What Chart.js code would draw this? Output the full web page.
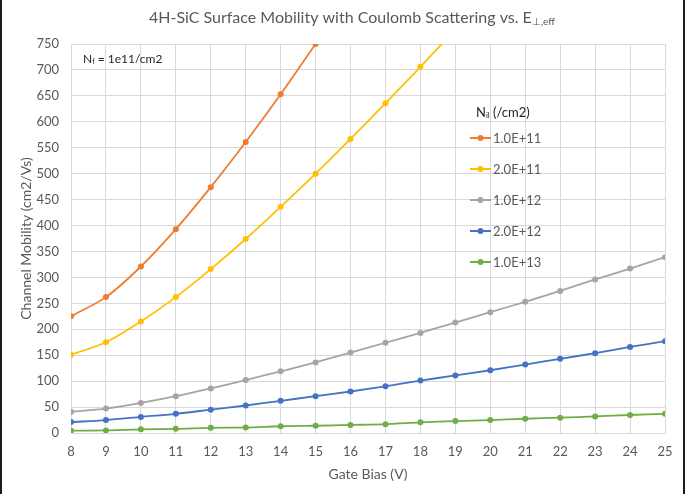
<!DOCTYPE html>
<html>
<head>
<meta charset="utf-8">
<script src="https://cdn.jsdelivr.net/npm/chart.js@4"></script>
<style>
  html, body { margin: 0; padding: 0; background: #fff; }
  #wrap { position: relative; width: 690px; height: 494px; }
</style>
</head>
<body>
<div id="wrap"><canvas id="lineChart" width="690" height="494"></canvas></div>
<script>
// gate bias (V)
const gateBias = [8, 9, 10, 11, 12, 13, 14, 15, 16, 17, 18, 19, 20, 21, 22, 23, 24, 25];
const seriesLabels = ["1.0E+11", "2.0E+11", "1.0E+12", "2.0E+12", "1.0E+13"];
const seriesColors = ["#ED7D31", "#FFC000", "#A5A5A5", "#4472C4", "#70AD47"];

// channel mobility (cm2/Vs), values above 750 run off the top of the plot
const mob1e11 = [225, 262, 321, 393, 474, 561, 653, 750, null, null, null, null, null, null, null, null, null, null];
const mob2e11 = [151, 175, 215, 262, 316, 374, 436, 500, 567, 636, 706, 778, null, null, null, null, null, null];
const mob1e12 = [41, 47, 58, 71, 86, 102, 119, 136, 155, 174, 193, 213, 233, 253, 274, 296, 317, 339];
const mob2e12 = [21, 25, 31, 37, 45, 53, 62, 71, 80, 90, 101, 111, 121, 132, 143, 154, 166, 177];
const mob1e13 = [4.5, 5, 7, 8, 10, 10.5, 13, 14, 15.5, 17, 20.5, 23, 25, 27.5, 29.5, 32, 34.7, 37];

const yTicksMax = 750;
const yTicksStep = 50;

const FONT = "Lato, 'Open Sans', sans-serif";
const TEXT = "#595959";
let lineChart;

const allSeries = [mob1e11, mob2e11, mob1e12, mob2e12, mob1e13];

// draws a string with a subscript part, returns end x
function drawSub(ctx, x, y, main, sub, size, after) {
    ctx.font = size + "px " + FONT;
    ctx.fillText(main, x, y);
    x += ctx.measureText(main).width;
    ctx.font = Math.round(size * 0.62) + "px " + FONT;
    ctx.fillText(sub, x, y + size * 0.22);
    x += ctx.measureText(sub).width;
    if (after) {
        ctx.font = size + "px " + FONT;
        ctx.fillText(after, x, y);
        x += ctx.measureText(after).width;
    }
    return x;
}

const decorations = {
    id: "decorations",
    afterDraw(chart) {
        const ctx = chart.ctx;
        const area = chart.chartArea;
        ctx.save();
        ctx.textBaseline = "middle";
        ctx.textAlign = "left";

        // title
        ctx.fillStyle = TEXT;
        const tMain = "4H-SiC Surface Mobility with Coulomb Scattering vs. E";
        const tSub = "\u22A5,eff";
        ctx.font = "16px " + FONT;
        let w = ctx.measureText(tMain).width;
        ctx.font = "10px " + FONT;
        w += ctx.measureText(tSub).width;
        drawSub(ctx, 352 - w / 2, 18, tMain, tSub, 16);

        // N_f annotation
        ctx.fillStyle = "#262626";
        drawSub(ctx, area.left + 12, area.top + 15, "N", "f", 12, " = 1e11/cm2");

        // legend
        const lx = 470;
        drawSub(ctx, lx + 6, 113, "N", "il", 13, " (/cm2)");
        chart.data.datasets.forEach((ds, i) => {
            const y = 138 + i * 31;
            ctx.strokeStyle = ds.borderColor;
            ctx.lineWidth = 2;
            ctx.beginPath();
            ctx.moveTo(lx, y);
            ctx.lineTo(lx + 21, y);
            ctx.stroke();
            ctx.fillStyle = ds.borderColor;
            ctx.beginPath();
            ctx.arc(lx + 10.5, y, 3, 0, Math.PI * 2);
            ctx.fill();
            ctx.fillStyle = TEXT;
            ctx.font = "13px " + FONT;
            ctx.fillText(ds.label, lx + 23, y + 1);
        });

        // outer frame lines
        ctx.fillStyle = "#1a1a1a";
        ctx.fillRect(0, 0, 2, chart.height);
        ctx.fillRect(683, 0, 2, chart.height);
        ctx.restore();
    }
};

function renderLineChart() {
    const ctx = document.getElementById("lineChart").getContext("2d");

    const datasets = allSeries.map((values, i) => ({
        label: seriesLabels[i],
        data: gateBias.map((x, j) => ({ x, y: values[j] })),
        borderColor: seriesColors[i],
        backgroundColor: seriesColors[i],
        borderWidth: 1.8,
        pointRadius: 3,
        pointBorderWidth: 0,
        tension: 0.3,
        spanGaps: false
    }));

    if (lineChart) lineChart.destroy();

    lineChart = new Chart(ctx, {
        type: "line",
        data: { datasets },
        options: {
            responsive: false,
            animation: false,
            devicePixelRatio: 1,
            layout: { padding: { top: 44, right: 25, left: 0, bottom: 0 } },
            plugins: {
                legend: { display: false },
                title: { display: false },
                tooltip: { enabled: false }
            },
            scales: {
                x: {
                    type: "linear",
                    min: gateBias[0],
                    max: gateBias[gateBias.length - 1],
                    afterFit: s => { s.height = 61; },
                    ticks: { stepSize: 1, color: TEXT, font: { family: FONT, size: 13 }, padding: 11 },
                    grid: { color: "#d9d9d9", drawTicks: false },
                    border: { color: "#d9d9d9" },
                    title: {
                        display: true, text: "Gate Bias (V)", color: TEXT,
                        font: { family: FONT, size: 14 }, padding: { top: 0, bottom: 11 }
                    }
                },
                y: {
                    min: 0,
                    max: yTicksMax,
                    afterFit: s => { s.width = 71; },
                    ticks: { stepSize: yTicksStep, color: TEXT, font: { family: FONT, size: 13 }, padding: 12 },
                    grid: { color: "#d9d9d9", drawTicks: false },
                    border: { color: "#d9d9d9" },
                    title: {
                        display: true, text: "Channel Mobility (cm2/Vs)", color: TEXT,
                        font: { family: FONT, size: 14 }, padding: { top: 18, bottom: 0 }
                    }
                }
            }
        },
        plugins: [decorations]
    });
}

renderLineChart();
</script>
</body>
</html>
